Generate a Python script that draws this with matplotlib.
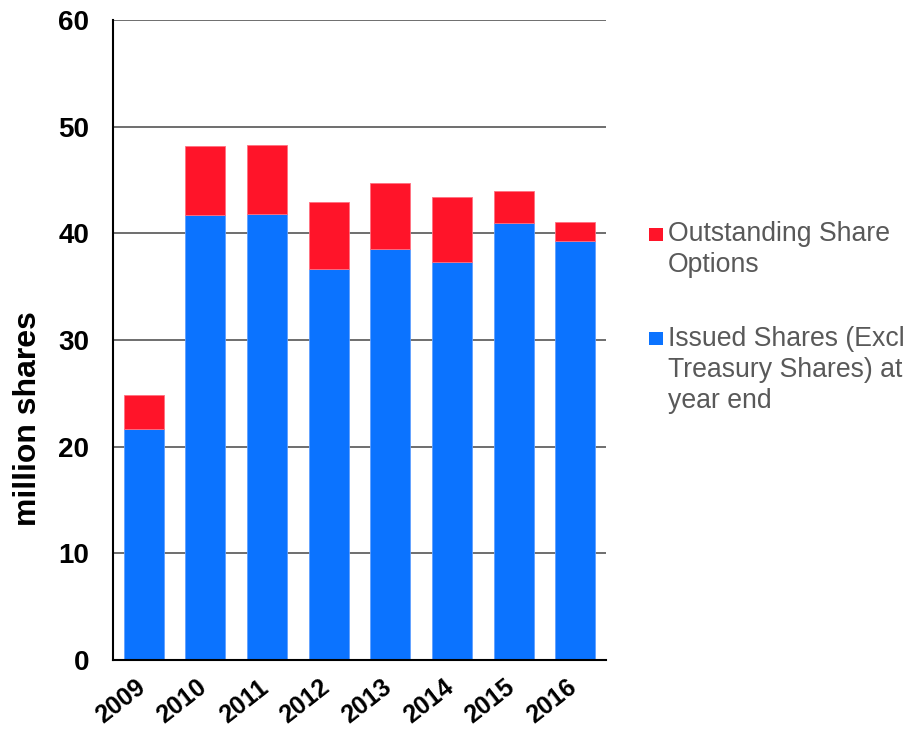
import matplotlib
matplotlib.use("Agg")
import matplotlib.pyplot as plt
from matplotlib.patches import Rectangle
from matplotlib.transforms import ScaledTranslation

years = ["2009", "2010", "2011", "2012", "2013", "2014", "2015", "2016"]
issued = [21.7, 41.7, 41.8, 36.7, 38.5, 37.3, 41.0, 39.3]
options = [3.15, 6.5, 6.47, 6.2, 6.25, 6.1, 3.0, 1.75]
series_labels = ["Outstanding Share\nOptions", "Issued Shares (Excl\nTreasury Shares) at\nyear end"]
yticks = [0, 10, 20, 30, 40, 50, 60]

RED = "#FF1429"
BLUE = "#0B73FF"

plt.rcParams["font.family"] = ["Liberation Sans", "DejaVu Sans"]

fig = plt.figure(figsize=(9.07, 7.29), dpi=100)
ax = fig.add_axes([113/907, 1-660/729, (606-113)/907, (660-20)/729])

x = list(range(len(years)))
ax.bar(x, issued, width=0.65, color=BLUE, edgecolor="#5fa0ff", linewidth=0.6, zorder=2)
ax.bar(x, options, bottom=issued, width=0.65, color=RED, edgecolor="#ff7080", linewidth=0.6, zorder=2)

ax.set_xlim(-0.5, len(years)-0.5)
ax.set_ylim(0, 60)
ax.set_yticks(yticks)
ax.set_yticklabels([str(t) for t in yticks], fontsize=20, fontweight="bold")
ax.set_xticks(x)
ax.set_xticklabels(years, fontsize=18, fontweight="bold", rotation=38,
                   ha="right", va="top", rotation_mode="anchor")
ax.tick_params(axis="y", length=0, pad=17)
ax.tick_params(axis="x", length=0, pad=11)
shift = ScaledTranslation(-9/100, 0, fig.dpi_scale_trans)
for lab in ax.get_xticklabels():
    lab.set_transform(lab.get_transform() + shift)
ax.grid(axis="y", color="#555555", linewidth=1.2, zorder=0)
ax.set_axisbelow(True)
for s in ["top", "right"]:
    ax.spines[s].set_visible(False)
ax.spines["left"].set_color("black")
ax.spines["left"].set_linewidth(1.5)
ax.spines["bottom"].set_color("black")
ax.spines["bottom"].set_linewidth(1.5)
ax.set_ylabel("million shares", fontsize=23, fontweight="bold")
ax.yaxis.set_label_coords((43-113)/493, (660-418.5)/640)

# legend
W, H = 907, 729
def fx(px): return px / W
def fy(py): return 1 - py / H
fig.patches.append(Rectangle((fx(649), fy(241)), 14/W, 13/H, transform=fig.transFigure,
                             facecolor=RED, edgecolor="none"))
fig.patches.append(Rectangle((fx(649), fy(345)), 14/W, 13/H, transform=fig.transFigure,
                             facecolor=BLUE, edgecolor="none"))
fig.text(fx(668), fy(221), series_labels[0], fontsize=19.2, color="#595959",
         va="top", ha="left", linespacing=1.26)
fig.text(fx(668), fy(326), series_labels[1], fontsize=19.2, color="#595959",
         va="top", ha="left", linespacing=1.24)

fig.savefig("out.png", dpi=100)
